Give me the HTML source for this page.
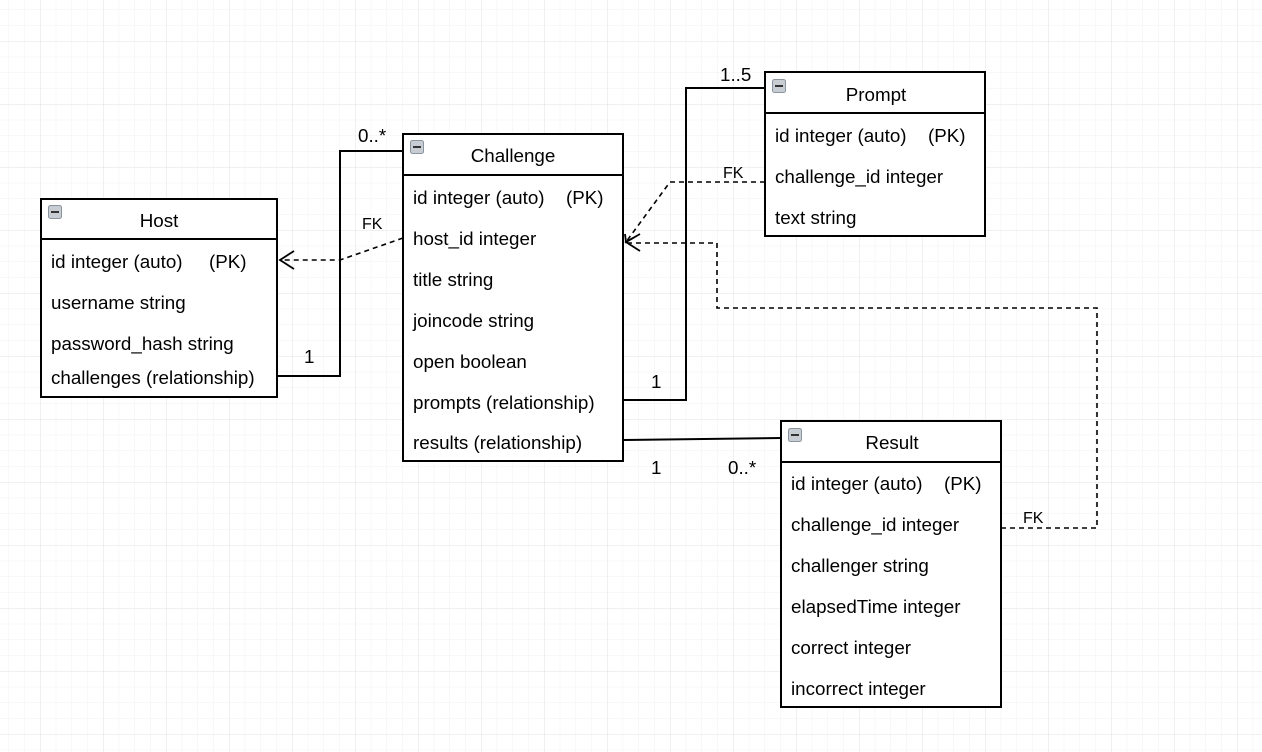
<!DOCTYPE html>
<html><head><meta charset="utf-8"><style>
html,body{margin:0;padding:0;background:#fff}
svg{display:block}
text{font-family:"Liberation Sans",Arial,sans-serif;font-size:18.8px;fill:#000}
</style></head><body>
<svg width="1262" height="752" xmlns="http://www.w3.org/2000/svg">
<defs>
<pattern id="minor" x="40" y="41" width="15.75" height="15.75" patternUnits="userSpaceOnUse">
<path d="M0 0H15.75M0 0V15.75" stroke="#f0f0f0" stroke-width="1" fill="none"/>
</pattern>
<pattern id="major" x="40" y="41" width="63" height="63" patternUnits="userSpaceOnUse">
<path d="M0 0H63M0 0V63" stroke="#e2e2e2" stroke-width="1" fill="none"/>
</pattern>
<g id="ic"><rect x="0.5" y="0.5" width="13" height="13" rx="2" fill="#c8cdd3" stroke="#8a949e"/><rect x="3" y="6" width="8" height="2" fill="#333"/></g>
</defs>
<rect width="1262" height="752" fill="url(#minor)"/>
<rect width="1262" height="752" fill="url(#major)"/>

<g fill="none" stroke="#000" stroke-width="2">
<path d="M277 376H340V151H403"/>
<path d="M623 400H686V88H765"/>
<path d="M623 440L781 438"/>
</g>
<g fill="none" stroke="#000" stroke-width="1.6" stroke-dasharray="5,4">
<path d="M403 238L340 260H280"/>
<path d="M765 182H670L626 242"/>
<path d="M1001 528H1097V308H717V243H626"/>
</g>
<g fill="none" stroke="#000" stroke-width="1.8">
<path d="M294 251L280 260L294 269"/>
<path d="M640 234L626 242L640 251"/>
<path d="M625 234L626 242L633 238"/>
</g>

<g fill="#fff" stroke="#000" stroke-width="2">
<rect x="41" y="199" width="236" height="198"/>
<rect x="403" y="134" width="220" height="327"/>
<rect x="765" y="72" width="220" height="164"/>
<rect x="781" y="421" width="220" height="286"/>
</g>
<g stroke="#000" stroke-width="2">
<path d="M41 239H277M403 175H623M765 113H985M781 462H1001"/>
</g>
<use href="#ic" x="48" y="205"/>
<use href="#ic" x="410" y="140"/>
<use href="#ic" x="772" y="79"/>
<use href="#ic" x="788" y="428"/>

<text x="159" y="227" text-anchor="middle">Host</text>
<text x="51" y="268">id integer (auto)</text><text x="209" y="268">(PK)</text>
<text x="51" y="309">username string</text>
<text x="51" y="350">password_hash string</text>
<text x="51" y="384">challenges (relationship)</text>

<text x="513" y="162" text-anchor="middle">Challenge</text>
<text x="413" y="204">id integer (auto)</text><text x="566" y="204">(PK)</text>
<text x="413" y="245">host_id integer</text>
<text x="413" y="286">title string</text>
<text x="413" y="327">joincode string</text>
<text x="413" y="368">open boolean</text>
<text x="413" y="409">prompts (relationship)</text>
<text x="413" y="449">results (relationship)</text>

<text x="876" y="101" text-anchor="middle">Prompt</text>
<text x="775" y="142">id integer (auto)</text><text x="928" y="142">(PK)</text>
<text x="775" y="183">challenge_id integer</text>
<text x="775" y="224">text string</text>

<text x="892" y="449" text-anchor="middle">Result</text>
<text x="791" y="490">id integer (auto)</text><text x="944" y="490">(PK)</text>
<text x="791" y="531">challenge_id integer</text>
<text x="791" y="572">challenger string</text>
<text x="791" y="613">elapsedTime integer</text>
<text x="791" y="654">correct integer</text>
<text x="791" y="695">incorrect integer</text>

<text x="304" y="363">1</text>
<text x="358" y="142">0..*</text>
<text x="362" y="229" style="font-size:16px">FK</text>
<text x="651" y="388">1</text>
<text x="720" y="81">1..5</text>
<text x="723" y="178" style="font-size:16px">FK</text>
<text x="651" y="474">1</text>
<text x="728" y="474">0..*</text>
<text x="1023" y="523" style="font-size:16px">FK</text>
</svg>
</body></html>
